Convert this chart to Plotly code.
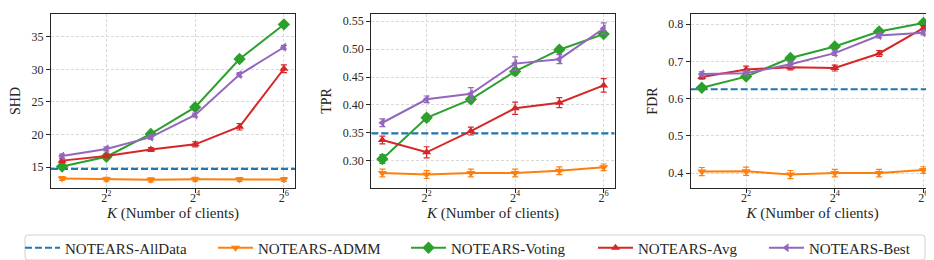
import math
import plotly.graph_objects as go

# ---------------- data ----------------
K = [2, 4, 8, 16, 32, 64]
tick_vals = [4, 16, 64]
tick_text = ["2<sup>2</sup>", "2<sup>4</sup>", "2<sup>6</sup>"]

methods = ["NOTEARS-AllData", "NOTEARS-ADMM", "NOTEARS-Voting", "NOTEARS-Avg", "NOTEARS-Best"]

# SHD
shd_alldata = 14.75
shd_admm = [13.25, 13.15, 13.05, 13.15, 13.1, 13.1]
shd_voting = [15.1, 16.6, 20.1, 24.2, 31.6, 36.9]
shd_avg = [16.0, 16.7, 17.7, 18.5, 21.2, 30.1]
shd_best = [16.7, 17.8, 19.6, 23.0, 29.2, 33.4]
shd_admm_err = [0.3, 0.3, 0.3, 0.3, 0.3, 0.3]
shd_voting_err = [0.3, 0.3, 0.3, 0.4, 0.4, 0.3]
shd_avg_err = [0.3, 0.3, 0.3, 0.4, 0.5, 0.6]
shd_best_err = [0.3, 0.3, 0.3, 0.3, 0.3, 0.3]

# TPR
tpr_alldata = 0.349
tpr_admm = [0.278, 0.275, 0.278, 0.278, 0.282, 0.288]
tpr_voting = [0.303, 0.377, 0.410, 0.460, 0.499, 0.527]
tpr_avg = [0.337, 0.315, 0.353, 0.394, 0.404, 0.435]
tpr_best = [0.368, 0.410, 0.420, 0.474, 0.482, 0.537]
tpr_admm_err = [0.007, 0.007, 0.007, 0.007, 0.007, 0.006]
tpr_voting_err = [0.008, 0.006, 0.006, 0.006, 0.005, 0.005]
tpr_avg_err = [0.007, 0.010, 0.007, 0.011, 0.009, 0.012]
tpr_best_err = [0.007, 0.006, 0.011, 0.012, 0.008, 0.010]

# FDR
fdr_alldata = 0.625
fdr_admm = [0.404, 0.405, 0.396, 0.400, 0.400, 0.408]
fdr_voting = [0.629, 0.659, 0.709, 0.740, 0.780, 0.803]
fdr_avg = [0.658, 0.678, 0.684, 0.682, 0.721, 0.789]
fdr_best = [0.666, 0.668, 0.692, 0.722, 0.769, 0.777]
fdr_admm_err = [0.011, 0.011, 0.011, 0.010, 0.010, 0.009]
fdr_voting_err = [0.005, 0.005, 0.005, 0.005, 0.005, 0.005]
fdr_avg_err = [0.006, 0.009, 0.007, 0.008, 0.008, 0.007]
fdr_best_err = [0.006, 0.006, 0.006, 0.006, 0.006, 0.006]

y_titles = ["SHD", "TPR", "FDR"]
y_ranges = [[11.8, 38.5], [0.251, 0.563], [0.36, 0.827]]
y_ticks = [[15, 20, 25, 30, 35],
           [0.30, 0.35, 0.40, 0.45, 0.50, 0.55],
           [0.4, 0.5, 0.6, 0.7, 0.8]]
y_fmt = ["d", ".2f", ".1f"]

# ---------------- style ----------------
W, H = 934, 260
FONT = "Liberation Serif, Times New Roman, DejaVu Serif, serif"
colors = ["#1f77b4", "#ff7f0e", "#2ca02c", "#d62728", "#9467bd"]
symbols = [None, "triangle-down", "diamond", "triangle-up", "triangle-left"]
msizes = [0, 8, 9.5, 8, 8]
x_lo_exp, x_hi_exp = 0.75, 6.25  # axis limits in log2 units
x_range = [x_lo_exp * math.log10(2), x_hi_exp * math.log10(2)]
x_ends = [2 ** x_lo_exp, 2 ** x_hi_exp]

x_domains_px = [(43, 287), (363.3, 606.7), (682.7, 926.5)]
y_domain_px = (6, 180)

panels = [
    (shd_alldata, [shd_admm, shd_voting, shd_avg, shd_best],
     [shd_admm_err, shd_voting_err, shd_avg_err, shd_best_err]),
    (tpr_alldata, [tpr_admm, tpr_voting, tpr_avg, tpr_best],
     [tpr_admm_err, tpr_voting_err, tpr_avg_err, tpr_best_err]),
    (fdr_alldata, [fdr_admm, fdr_voting, fdr_avg, fdr_best],
     [fdr_admm_err, fdr_voting_err, fdr_avg_err, fdr_best_err]),
]

legend_names = ["legend", "legend2", "legend3", "legend4", "legend5"]
legend_line_start_px = [23, 216, 409, 596, 767]

fig = go.Figure()

for p, (base, series, errs) in enumerate(panels):
    xa = "x" if p == 0 else f"x{p+1}"
    ya = "y" if p == 0 else f"y{p+1}"
    # baseline (all data) dashed line spanning the axis
    fig.add_trace(go.Scatter(
        x=x_ends, y=[base, base], mode="lines",
        line=dict(color=colors[0], width=2.2, dash="7px,3px"),
        name=methods[0], legend=legend_names[0], showlegend=(p == 0),
        xaxis=xa, yaxis=ya, hoverinfo="skip"))
    for i, (vals, err) in enumerate(zip(series, errs), start=1):
        fig.add_trace(go.Scatter(
            x=K, y=vals, mode="lines+markers",
            line=dict(color=colors[i], width=2),
            marker=dict(symbol=symbols[i], size=msizes[i], color=colors[i], line=dict(width=0)),
            error_y=dict(type="data", array=err, visible=True, color=colors[i],
                         thickness=1.2, width=3),
            name=methods[i], legend=legend_names[i], showlegend=(p == 0),
            xaxis=xa, yaxis=ya))

axis_line = "#262626"
for p in range(3):
    sx = "" if p == 0 else str(p + 1)
    x0, x1 = x_domains_px[p]
    fig.layout["xaxis" + sx] = dict(
        type="log", range=x_range, domain=[x0 / W, x1 / W], anchor="y" + sx,
        tickvals=tick_vals, ticktext=tick_text,
        showgrid=True, gridcolor="#d9d9d9", griddash="3px,2px", gridwidth=0.8,
        showline=True, linecolor=axis_line, linewidth=1.2, mirror=True,
        ticks="outside", ticklen=4, tickcolor=axis_line, tickwidth=1,
        ticklabelstandoff=-6,
        tickfont=dict(family=FONT, size=12, color="#262626"),
        title=dict(text="<i>K</i> (Number of clients)", standoff=0,
                   font=dict(family=FONT, size=15, color="#262626")),
        zeroline=False)
    fig.layout["yaxis" + sx] = dict(
        range=y_ranges[p], domain=[1 - y_domain_px[1] / H, 1 - y_domain_px[0] / H],
        anchor="x" + sx, tickvals=y_ticks[p], tickformat=y_fmt[p],
        showgrid=True, gridcolor="#d9d9d9", griddash="3px,2px", gridwidth=0.8,
        showline=True, linecolor=axis_line, linewidth=1.2, mirror=True,
        ticks="outside", ticklen=4, tickcolor=axis_line, tickwidth=1,
        tickfont=dict(family=FONT, size=12, color="#262626"),
        title=dict(text=y_titles[p], standoff=7,
                   font=dict(family=FONT, size=14, color="#262626")),
        zeroline=False)

# legends (one per entry, placed in a single row)
leg_y = 1 - 240 / H
for name, lx in zip(legend_names, legend_line_start_px):
    fig.layout[name] = dict(
        x=(lx - 11) / W, xanchor="left", y=leg_y, yanchor="middle",
        orientation="h", bgcolor="rgba(0,0,0,0)", borderwidth=0,
        itemwidth=35, font=dict(family=FONT, size=15, color="#262626"))

# legend frame (rounded rectangle)
lx0, lx1, ly0, ly1, r = 17, 917, 227, 252, 3
def px(x):
    return x / W
def py(y):
    return 1 - y / H
path = (f"M {px(lx0 + r)} {py(ly0)} L {px(lx1 - r)} {py(ly0)} "
        f"Q {px(lx1)} {py(ly0)} {px(lx1)} {py(ly0 + r)} L {px(lx1)} {py(ly1 - r)} "
        f"Q {px(lx1)} {py(ly1)} {px(lx1 - r)} {py(ly1)} L {px(lx0 + r)} {py(ly1)} "
        f"Q {px(lx0)} {py(ly1)} {px(lx0)} {py(ly1 - r)} L {px(lx0)} {py(ly0 + r)} "
        f"Q {px(lx0)} {py(ly0)} {px(lx0 + r)} {py(ly0)} Z")
fig.add_shape(type="path", path=path, xref="paper", yref="paper",
              line=dict(color="#d0d0d0", width=1), fillcolor="rgba(255,255,255,0.8)", layer="below")

fig.update_layout(
    width=W, height=H, margin=dict(l=0, r=0, t=0, b=0),
    plot_bgcolor="white", paper_bgcolor="white",
    font=dict(family=FONT, size=12, color="#262626"),
    showlegend=True, hovermode=False)

fig.write_html("out.html")
